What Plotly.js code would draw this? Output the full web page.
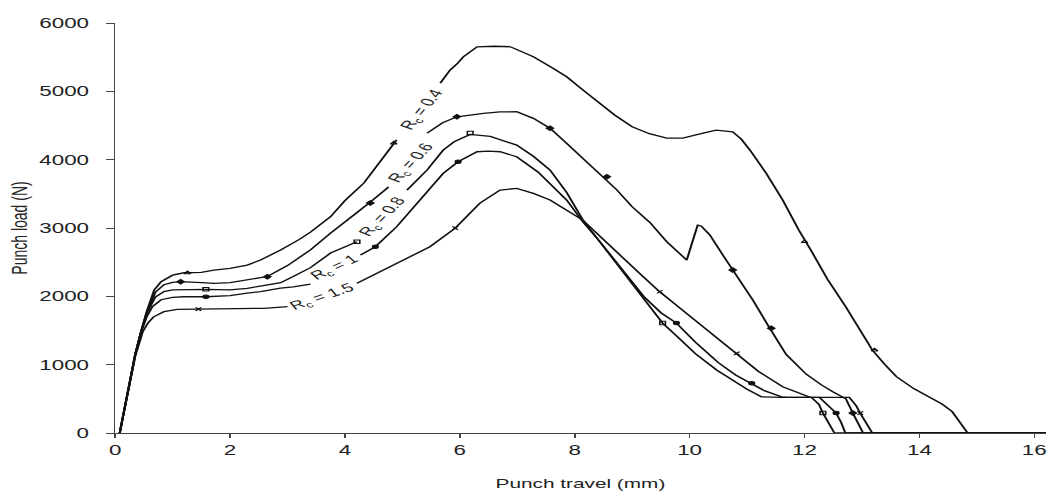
<!DOCTYPE html>
<html><head><meta charset="utf-8">
<script src="https://cdn.plot.ly/plotly-3.0.1.min.js"></script>
<style>
html,body{margin:0;padding:0;overflow:hidden;background:#fff;width:1049px;height:493px}
#chart{width:656px;height:493px;transform:scaleX(1.59909);transform-origin:0 0;}
</style>
</head><body><div id="chart"></div>
<script>
// Rc = 0.4
const x04 = [0.08,0.15,0.25,0.35,0.45,0.55,0.68,0.8,1.0,1.2,1.5,1.72,2.0,2.3,2.53,2.88,3.2,3.4,3.75,4.0,4.33,4.6,4.9,null,5.66,5.83,5.95,6.06,6.3,6.6,6.88,7.28,7.6,7.86,8.14,8.44,8.7,9.0,9.3,9.6,9.88,10.2,10.46,10.75,10.9,11.05,11.33,11.62,11.9,12.14,12.4,12.72,13.0,13.18,13.4,13.6,13.9,14.17,14.4,14.57,14.7,14.84,16.2];
const y04 = [0,300,750,1150,1480,1780,2092,2214,2310,2345,2350,2385,2410,2458,2531,2677,2830,2940,3165,3400,3658,3950,4290,null,5120,5311,5400,5505,5652,5660,5652,5505,5350,5213,5020,4828,4650,4481,4380,4316,4316,4380,4433,4408,4300,4140,3804,3409,2970,2633,2250,1843,1450,1214,1000,824,650,531,420,312,150,0,0];
// Rc = 0.6
const x06 = [0.08,0.15,0.25,0.35,0.45,0.55,0.7,0.85,1.0,1.14,1.5,1.72,2.0,2.3,2.65,3.0,3.4,3.75,4.0,4.2,4.44,4.76,null,5.43,5.7,5.95,6.2,6.41,6.7,6.99,7.28,7.57,7.86,8.14,8.44,8.73,9.0,9.31,9.6,9.8,9.95,10.04,10.14,10.2,10.35,10.55,10.75,11.1,11.39,11.68,12.03,12.3,12.5,12.65,12.72,12.84,12.95,13.02,16.2];
const y06 = [0,300,750,1150,1480,1760,2060,2170,2205,2214,2200,2190,2200,2240,2290,2450,2680,2926,3080,3220,3380,3600,null,4389,4540,4628,4660,4677,4700,4701,4604,4460,4238,4020,3799,3560,3311,3080,2800,2640,2531,2775,3043,3030,2900,2640,2385,1946,1540,1150,860,700,600,535,500,292,120,0,0];
// Rc = 0.8
const x08 = [0.08,0.15,0.25,0.35,0.45,0.55,0.7,0.85,1.0,1.2,1.58,2.0,2.3,2.53,2.88,3.1,3.4,3.75,4.0,4.21,null,5.08,5.43,5.71,5.9,6.18,6.53,6.99,7.28,7.57,7.86,8.14,8.44,8.73,9.0,9.25,9.53,9.8,10.1,10.47,10.8,11.0,11.25,11.6,12.12,12.25,12.32,12.42,12.52,16.2];
const y08 = [0,300,750,1150,1480,1750,1990,2070,2095,2100,2102,2095,2117,2150,2200,2290,2420,2633,2720,2799,null,3555,3848,4140,4262,4370,4340,4213,4050,3848,3520,3120,2790,2480,2180,1900,1609,1400,1160,922,750,640,530,522,522,420,292,150,0,0];
// Rc = 1
const x10 = [0.08,0.15,0.25,0.35,0.45,0.55,0.65,0.8,1.0,1.2,1.58,2.0,2.3,2.53,2.88,3.1,3.4,null,4.27,4.53,4.9,5.14,5.36,5.71,5.97,6.3,6.5,6.7,6.99,7.36,7.86,8.14,8.44,8.8,9.2,9.5,9.77,10.1,10.5,10.8,11.08,11.3,11.6,11.7,12.26,12.4,12.55,12.64,12.71,16.2];
const y10 = [0,300,750,1150,1470,1700,1850,1950,1985,1994,1994,2010,2048,2068,2120,2140,2180,null,2604,2726,3018,3250,3457,3799,3970,4116,4125,4116,4043,3820,3409,3092,2799,2420,2000,1760,1609,1330,1030,850,727,620,530,522,522,420,292,150,0,0];
// Rc = 1.5
const x15 = [0.08,0.15,0.25,0.35,0.48,0.58,0.67,0.85,1.08,1.45,2.0,2.59,3.0,null,4.21,4.9,5.48,5.92,6.12,6.35,6.7,6.99,7.28,7.57,8.14,8.44,8.73,9.19,9.48,9.8,10.2,10.5,10.82,11.2,11.62,12.0,12.1,12.78,12.9,12.97,13.08,13.18,16.2];
const y15 = [0,300,750,1120,1480,1620,1700,1775,1810,1814,1810,1824,1850,null,2190,2487,2726,2999,3165,3365,3555,3580,3506,3409,3116,2870,2650,2290,2067,1850,1580,1380,1166,900,677,550,522,522,400,290,130,0,0];

// marker points
const m04x = [1.26,4.85,12.0,13.22], m04y = [2345,4243,2799,1214];
const m06x = [1.14,2.65,4.44,5.95,7.57,8.56,10.75,11.42,12.84], m06y = [2214,2287,3365,4628,4460,3750,2385,1532,292];
const m08x = [1.58,4.21,6.18,9.53,12.32], m08y = [2102,2799,4389,1609,292];
const m10x = [1.58,4.53,5.97,9.77,11.08,12.55], m10y = [1994,2726,3970,1609,727,292];
const m15x = [1.45,5.92,9.48,10.82,12.97], m15y = [1814,2999,2067,1166,290];

const xTicks = [0,2,4,6,8,10,12,14,16];
const yTicks = [0,1000,2000,3000,4000,5000,6000];
const labels = ["R<sub>c</sub> = 0.4","R<sub>c</sub> = 0.6","R<sub>c</sub> = 0.8","R<sub>c</sub> = 1","R<sub>c</sub> = 1.5"];

const FONT = "Liberation Sans, Arial, sans-serif";
const series = [[x04,y04],[x06,y06],[x08,y08],[x10,y10],[x15,y15]];
const marks = [[m04x,m04y,'triangle-up-open'],[m06x,m06y,'diamond'],[m08x,m08y,'square-open'],[m10x,m10y,'circle'],[m15x,m15y,'x-thin-open']];
const traces = [];
series.forEach((s,i)=>traces.push({x:s[0],y:s[1],type:'scatter',mode:'lines',line:{color:'#111',width:1.3},hoverinfo:'skip'}));
marks.forEach(m=>traces.push({x:m[0],y:m[1],type:'scatter',mode:'markers',marker:{symbol:m[2],size:3.5,color:'#111',line:{color:'#111',width:1}},hoverinfo:'skip'}));

const annPos = [[5.36,4725,-62],[5.17,3950,-59],[4.67,3160,-58],[3.83,2414,-36],[3.63,1990,-28]];
const annotations = labels.map((t,i)=>({text:t,x:annPos[i][0],y:annPos[i][1],xref:'x',yref:'y',showarrow:false,textangle:annPos[i][2],font:{family:FONT,size:12,color:'#222'},xanchor:'center',yanchor:'middle'}));

const layout = {
  width:656,height:493,
  margin:{l:71.5,r:1.5,t:23,b:60},
  paper_bgcolor:'#fff',plot_bgcolor:'#fff',
  showlegend:false,
  font:{family:FONT,color:'#222'},
  xaxis:{range:[0,16.2],tickvals:xTicks,ticktext:xTicks.map(String),showline:true,linecolor:'#444',linewidth:1,ticks:'outside',ticklen:4,tickcolor:'#444',showgrid:false,zeroline:false,tickfont:{family:FONT,size:14,color:'#222'},title:{text:'Punch travel (mm)',font:{family:FONT,size:13,color:'#222'},standoff:22}},
  yaxis:{range:[0,6000],tickvals:yTicks,ticktext:yTicks.map(String),showline:true,linecolor:'#444',linewidth:1,ticks:'outside',ticklen:4.5,tickcolor:'#444',ticklabelstandoff:8,showgrid:false,zeroline:false,tickfont:{family:FONT,size:14,color:'#222'},title:{text:'Punch load (N)',font:{family:FONT,size:14,color:'#222'},standoff:3}},
  annotations:annotations
};
Plotly.newPlot('chart',traces,layout,{displayModeBar:false,staticPlot:true});
</script></body></html>
